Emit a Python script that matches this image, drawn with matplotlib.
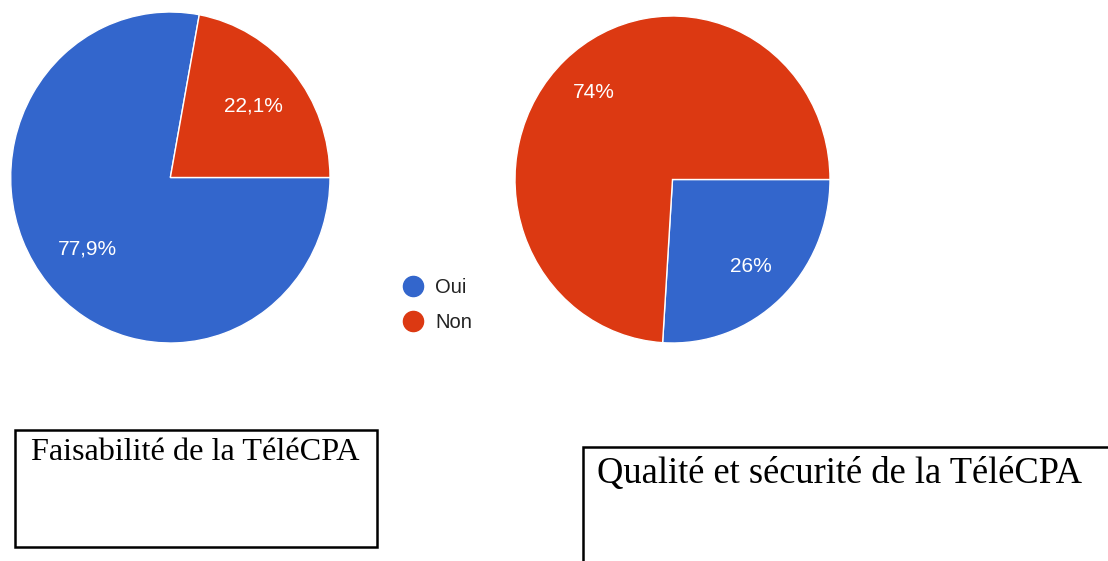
import matplotlib
matplotlib.use("Agg")
import matplotlib.pyplot as plt
from matplotlib.patches import Rectangle
from matplotlib.lines import Line2D

# données
categories = ["Oui", "Non"]
faisabilite = [77.9, 22.1]
qualite = [26, 74]
titres = ["Faisabilité de la TéléCPA", "Qualité et sécurité de la TéléCPA"]
couleurs = ["#3366CC", "#DC3912"]

W, H = 1108, 561


def pct_fr(p):
    s = f"{p:.1f}".replace(".", ",")
    if s.endswith(",0"):
        s = s[:-2]
    return s + "%"


def ax_px(fig, x0, y0, x1, y1):
    # axes placé en pixels (origine en haut à gauche)
    return fig.add_axes([x0 / W, 1 - y1 / H, (x1 - x0) / W, (y1 - y0) / H])


def main():
    fig = plt.figure(figsize=(W / 100, H / 100), dpi=100)
    fig.patch.set_facecolor("white")

    txt = dict(color="white", fontsize=15, family="Liberation Sans")
    wedge = dict(edgecolor="white", linewidth=1)

    # camembert gauche
    ax1 = ax_px(fig, 10.7, 12, 330, 343)
    ax1.pie(faisabilite, colors=couleurs, startangle=360 * faisabilite[1] / 100,
            counterclock=True, autopct=pct_fr, pctdistance=0.675,
            textprops=txt, wedgeprops=wedge)
    ax1.set_aspect("auto")
    ax1.set_xlim(-1, 1)
    ax1.set_ylim(-1, 1)

    # camembert droit
    ax2 = ax_px(fig, 515, 16, 830, 343)
    ax2.pie(qualite, colors=couleurs, startangle=0, counterclock=False,
            autopct=pct_fr, pctdistance=0.73, textprops=txt, wedgeprops=wedge)
    ax2.set_aspect("auto")
    ax2.set_xlim(-1, 1)
    ax2.set_ylim(-1, 1)

    # légende
    handles = [Line2D([], [], linestyle="none", marker="o", markersize=14.5,
                      markerfacecolor=c, markeredgecolor=c) for c in couleurs]
    fig.legend(handles, categories, loc="center left",
               bbox_to_anchor=(403 / W, 1 - 305 / H), frameon=False,
               handlelength=1.0, handletextpad=0.6, labelspacing=0.78,
               prop={"family": "Liberation Sans", "size": 14.5},
               labelcolor="#222222", borderaxespad=0, borderpad=0)

    # cadres de titre
    fig.patches.append(Rectangle((15 / W, 1 - 547 / H), 362 / W, 117 / H,
                                 transform=fig.transFigure, fill=False,
                                 edgecolor="black", linewidth=1.8))
    fig.text(31 / W, 1 - 460 / H, titres[0], family="Liberation Serif",
             fontsize=23.2, va="baseline", ha="left")

    fig.patches.append(Rectangle((583 / W, -0.05), 0.6, 1.05 - 447 / H,
                                 transform=fig.transFigure, fill=False,
                                 edgecolor="black", linewidth=1.8))
    fig.text(597 / W, 1 - 483 / H, titres[1], family="Liberation Serif",
             fontsize=26.3, va="baseline", ha="left")

    fig.savefig("out.png", dpi=100)


if __name__ == "__main__":
    main()
